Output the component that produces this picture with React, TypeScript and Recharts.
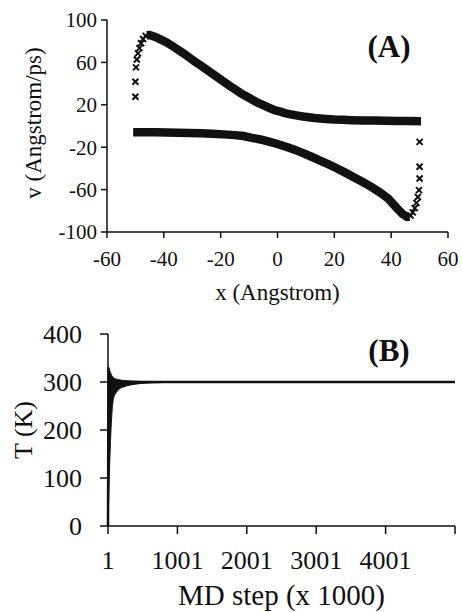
import { ScatterChart, Scatter, ComposedChart, Line, Area, XAxis, YAxis } from "recharts";

const FONT = "'Liberation Serif', 'Times New Roman', serif";
const INK = "#111";

// (A) upper branch: sparse crosses at the left wall, then the dense band
const upperWallX = [-50, -50, -49.8, -49.5, -49.1, -48.6, -48, -47.3, -46.4];
const upperWallV = [27.6, 41.7, 55.3, 62.8, 68.5, 73.5, 78, 82, 85];
const upperBandX = [-46, -45, -43, -41, -39, -37, -35, -33, -31, -29, -27, -25, -23, -21, -19, -17, -15, -13, -11, -9, -7, -5, -3, -1, 1, 3, 5, 7, 9, 11, 13, 15, 17, 20, 23, 26, 30, 34, 38, 42, 46, 50.5];
const upperBandV = [85.6, 85.8, 84, 81.5, 78.9, 75.5, 72, 68.3, 64.5, 60.6, 57, 53.3, 49.5, 45.8, 42, 38.3, 34.6, 31, 28, 25, 22, 19.6, 17.2, 15, 13.5, 12, 10.8, 9.8, 8.9, 8.2, 7.5, 7, 6.6, 6.1, 5.8, 5.5, 5.3, 5.1, 4.9, 4.7, 4.6, 4.5];

// (A) lower branch: dense band, then sparse crosses at the right wall
const lowerBandX = [-50.8, -47, -43, -39, -35, -31, -27, -23, -19, -15, -12, -9, -6, -3, 0, 3, 6, 9, 12, 15, 18, 21, 24, 27, 30, 33, 36, 39, 42, 44, 45.6, 46.5];
const lowerBandV = [-5.8, -5.9, -6, -6.2, -6.4, -6.6, -6.9, -7.3, -7.9, -8.6, -9.5, -11.2, -12.7, -14.8, -17, -19.5, -22.3, -25.6, -29, -32.6, -36.3, -40.1, -44.2, -48.5, -52.8, -57.5, -62.6, -68.5, -77.5, -83, -85.8, -85.5];
const lowerWallX = [46.8, 47.6, 48.3, 48.9, 49.4, 49.8, 50, 50, 50];
const lowerWallV = [-84.5, -81.5, -77.5, -72.5, -67, -60.5, -49.5, -38.5, -15];

const aXTicks = [-60, -40, -20, 0, 20, 40, 60];
const aYTicks = [-100, -60, -20, 20, 60, 100];

// (B) temperature vs MD step, plus the envelope of the early fluctuations
const mdStep = [1, 5, 9, 13, 20, 40, 5001];
const tempK = [0, 200, 330, 295, 300, 300, 300];
const envStep = [1, 30, 60, 80, 120, 160, 230, 330, 450, 600, 800, 1100, 1500];
const envLow = [0, 150, 240, 265, 278, 285, 290, 294, 296.5, 298, 299, 299.5, 300];
const envHigh = [330, 322, 312, 309, 306, 304.5, 303, 302, 301.3, 300.8, 300.5, 300.3, 300];

const bXTicks = [1, 1001, 2001, 3001, 4001, 5001];
const bYTicks = [0, 100, 200, 300, 400];

const zip = (xs: number[], ys: number[]) => xs.map((x, i) => ({ x, y: ys[i] }));

const upperWall = zip(upperWallX, upperWallV);
const upperBand = zip(upperBandX, upperBandV);
const lowerBand = zip(lowerBandX, lowerBandV);
const lowerWall = zip(lowerWallX, lowerWallV);
const tempData = mdStep.map((s, i) => ({ step: s, T: tempK[i] }));
const envData = envStep.map((s, i) => ({ step: s, range: [envLow[i], envHigh[i]] }));

const Cross = (props: any) => {
  const { cx, cy } = props;
  if (cx == null || cy == null) return null;
  const r = 3;
  return (
    <path
      d={`M${cx - r},${cy - r}L${cx + r},${cy + r}M${cx - r},${cy + r}L${cx + r},${cy - r}`}
      stroke={INK}
      strokeWidth={2}
      fill="none"
    />
  );
};

const NoDot = () => null;

const axisLine = { stroke: INK, strokeWidth: 1.5 };
const tickA = { fill: INK, fontSize: 21, fontFamily: FONT };
const tickB = { fill: INK, fontSize: 26, fontFamily: FONT };

export default function App() {
  return (
    <div style={{ position: "absolute", left: 0, top: 0, width: 462, height: 612, background: "#fff", fontFamily: FONT }}>
      <style>{`svg text, svg tspan { font-family: 'Liberation Serif', 'Times New Roman', serif !important; }`}</style>
      <div style={{ position: "absolute", left: 0, top: 0 }}>
        <ScatterChart width={462} height={310} margin={{ top: 20, right: 14, bottom: 0, left: 0 }}>
          <XAxis
            type="number"
            dataKey="x"
            domain={[-60, 60]}
            ticks={aXTicks}
            height={78}
            tickSize={6}
            tickMargin={13}
            axisLine={axisLine}
            tickLine={axisLine}
            tick={tickA}
            label={{ value: "x (Angstrom)", position: "insideBottom", offset: 10, fill: INK, fontSize: 23 }}
          />
          <YAxis
            type="number"
            dataKey="y"
            domain={[-100, 100]}
            ticks={aYTicks}
            width={107}
            tickSize={6}
            tickMargin={4}
            axisLine={axisLine}
            tickLine={axisLine}
            tick={tickA}
            label={{ value: "v (Angstrom/ps)", angle: -90, position: "insideLeft", offset: 33, dy: -3, fill: INK, fontSize: 23, style: { textAnchor: "middle" } }}
          />
          <Scatter data={upperBand} fill={INK} shape={NoDot} line={{ stroke: INK, strokeWidth: 8.5 }} isAnimationActive={false} />
          <Scatter data={lowerBand} fill={INK} shape={NoDot} line={{ stroke: INK, strokeWidth: 8.5 }} isAnimationActive={false} />
          <Scatter data={upperWall} fill={INK} shape={Cross} isAnimationActive={false} />
          <Scatter data={lowerWall} fill={INK} shape={Cross} isAnimationActive={false} />
          <text x={389} y={57} textAnchor="middle" fontWeight="bold" fontSize={31} fill={INK}>
            (A)
          </text>
        </ScatterChart>
      </div>
      <div style={{ position: "absolute", left: 0, top: 300 }}>
        <ComposedChart width={462} height={312} margin={{ top: 34, right: 7, bottom: 0, left: 0 }}>
          <XAxis
            type="number"
            dataKey="step"
            domain={[1, 5001]}
            ticks={bXTicks}
            tickFormatter={(v: number) => (v === 5001 ? "" : String(v))}
            height={86}
            tickSize={8}
            tickMargin={17}
            axisLine={axisLine}
            tickLine={axisLine}
            tick={tickB}
            label={{ value: "MD step (x 1000)", position: "insideBottom", offset: 7, fill: INK, fontSize: 29 }}
          />
          <YAxis
            type="number"
            domain={[0, 400]}
            ticks={bYTicks}
            width={108}
            tickSize={8}
            tickMargin={18}
            axisLine={axisLine}
            tickLine={axisLine}
            tick={tickB}
            label={{ value: "T (K)", angle: -90, position: "insideLeft", offset: 23, fill: INK, fontSize: 26, style: { textAnchor: "middle" } }}
          />
          <Area data={envData} dataKey="range" type="monotone" stroke={INK} strokeWidth={1} fill={INK} fillOpacity={1} isAnimationActive={false} />
          <Line data={tempData} dataKey="T" type="linear" stroke={INK} strokeWidth={2.5} dot={false} isAnimationActive={false} />
          <text x={389} y={61} textAnchor="middle" fontWeight="bold" fontSize={31} fill={INK}>
            (B)
          </text>
        </ComposedChart>
      </div>
    </div>
  );
}
